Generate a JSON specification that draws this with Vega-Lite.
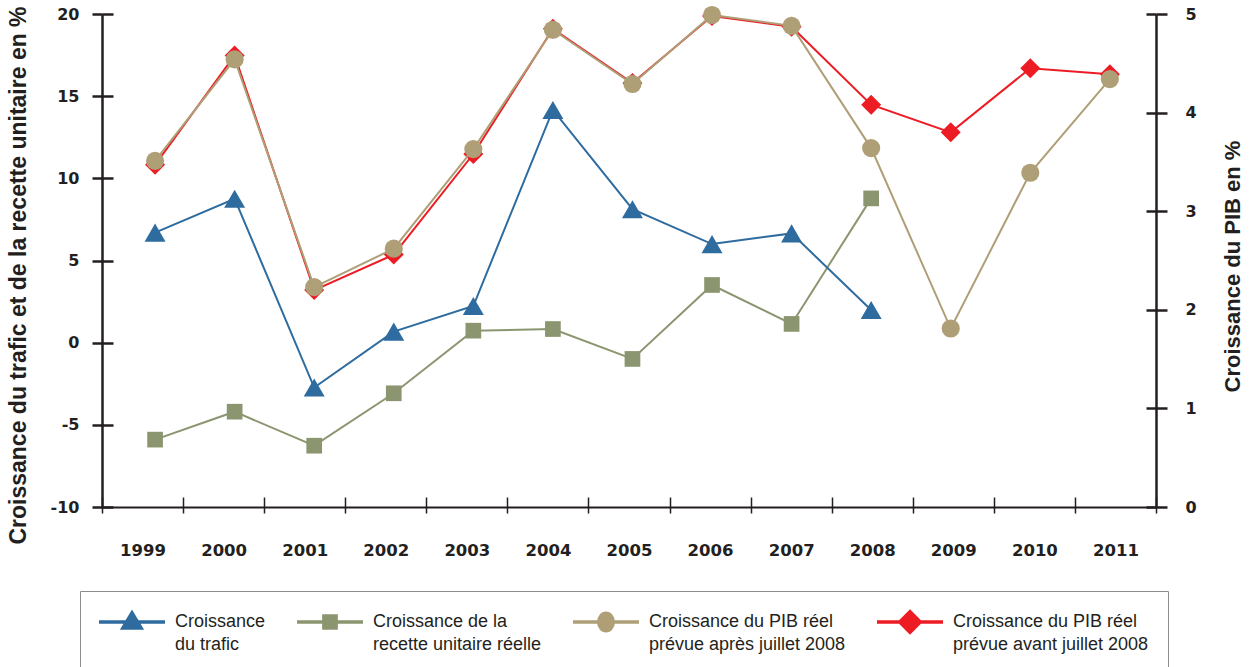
{
  "$schema": "https://vega.github.io/schema/vega-lite/v6.json",
  "width": 1054,
  "height": 493,
  "autosize": "none",
  "padding": {"left": 102, "top": 14, "right": 94, "bottom": 160},
  "background": "white",
  "config": {"view": {"stroke": null}, "font": "Liberation Sans"},
  "data": {"values": [
    {"year": 1999, "trafic": 6.7, "recette": -5.9, "pib_apres": 3.51, "pib_avant": 3.47},
    {"year": 2000, "trafic": 8.76, "recette": -4.2, "pib_apres": 4.54, "pib_avant": 4.58},
    {"year": 2001, "trafic": -2.73, "recette": -6.27, "pib_apres": 2.23, "pib_avant": 2.2},
    {"year": 2002, "trafic": 0.67, "recette": -3.08, "pib_apres": 2.62, "pib_avant": 2.56},
    {"year": 2003, "trafic": 2.23, "recette": 0.73, "pib_apres": 3.63, "pib_avant": 3.58},
    {"year": 2004, "trafic": 14.16, "recette": 0.83, "pib_apres": 4.84, "pib_avant": 4.85},
    {"year": 2005, "trafic": 8.12, "recette": -0.99, "pib_apres": 4.29, "pib_avant": 4.3},
    {"year": 2006, "trafic": 6.0, "recette": 3.51, "pib_apres": 4.99, "pib_avant": 4.98},
    {"year": 2007, "trafic": 6.65, "recette": 1.14, "pib_apres": 4.88, "pib_avant": 4.87},
    {"year": 2008, "trafic": 1.99, "recette": 8.78, "pib_apres": 3.64, "pib_avant": 4.08},
    {"year": 2009, "trafic": null, "recette": null, "pib_apres": 1.81, "pib_avant": 3.8},
    {"year": 2010, "trafic": null, "recette": null, "pib_apres": 3.39, "pib_avant": 4.45},
    {"year": 2011, "trafic": null, "recette": null, "pib_apres": 4.34, "pib_avant": 4.39}
  ]},
  "layer": [
    {
      "transform": [{"fold": ["trafic", "recette", "pib_apres", "pib_avant"], "as": ["series", "v"]}],
      "mark": {"type": "point", "opacity": 0, "filled": true},
      "encoding": {
        "x": {
          "field": "year", "type": "ordinal",
          "scale": {"type": "band", "paddingInner": 0, "paddingOuter": 0},
          "axis": {
            "orient": "bottom", "title": null, "tickBand": "extent",
            "domainColor": "#231f20", "domainWidth": 2,
            "tickColor": "#231f20", "tickWidth": 1.5, "tickSize": 6,
            "grid": true, "gridColor": "#231f20", "gridWidth": 1.5, "gridDash": [10, 3000],
            "labelAngle": 0, "labelFont": "DejaVu Sans", "labelFontWeight": "bold", "labelFontSize": 16.5,
            "labelColor": "#231f20", "labelPadding": 29, "labelBaseline": "top"
          }
        },
        "color": {
          "field": "series", "type": "nominal",
          "scale": {"domain": ["trafic", "recette", "pib_apres", "pib_avant"], "range": ["#2e6b9e", "#8b9670", "#ae9f77", "#ed1c24"]},
          "legend": {
            "orient": "none", "legendX": -22, "legendY": 577, "direction": "horizontal", "columns": 4, "title": null,
            "strokeColor": "#8c8c8c", "fillColor": "white", "padding": 19,
            "symbolSize": 400, "symbolStrokeWidth": 3.5, "symbolOpacity": 1,
            "labelFont": "Liberation Sans", "labelFontSize": 18, "labelColor": "#231f20", "labelLimit": 400,
            "labelOffset": 52, "columnPadding": 24,
            "labelExpr": "datum.label == 'trafic' ? ['Croissance', 'du trafic'] : datum.label == 'recette' ? ['Croissance de la', 'recette unitaire réelle'] : datum.label == 'pib_apres' ? ['Croissance du PIB réel', 'prévue après juillet 2008'] : ['Croissance du PIB réel', 'prévue avant juillet 2008']",
            "encode": {
              "labels": {"update": {"lineHeight": {"value": 23}}},
              "symbols": {"update": {"stroke": {"scale": "color", "field": "value"}}}
            }
          }
        },
        "shape": {
          "field": "series", "type": "nominal",
          "scale": {"domain": ["trafic", "recette", "pib_apres", "pib_avant"], "range": [
            "M-1.2,0H5.4M2.1,-0.9L3.005,0.6L1.195,0.6Z",
            "M-1.2,0H5.4M1.49,-0.61H2.71V0.61H1.49Z",
            "M-1.2,0H5.4M2.82,0A0.72,0.87 0 1,1 1.38,0A0.72,0.87 0 1,1 2.82,0Z",
            "M-1.2,0H5.4M2.1,-1.02L3.12,0L2.1,1.02L1.08,0Z"
          ]},
          "legend": {
            "orient": "none", "legendX": -22, "legendY": 577, "direction": "horizontal", "columns": 4, "title": null,
            "strokeColor": "#8c8c8c", "fillColor": "white", "padding": 19,
            "symbolSize": 400, "symbolStrokeWidth": 3.5, "symbolOpacity": 1,
            "labelFont": "Liberation Sans", "labelFontSize": 18, "labelColor": "#231f20", "labelLimit": 400,
            "labelOffset": 52, "columnPadding": 24,
            "labelExpr": "datum.label == 'trafic' ? ['Croissance', 'du trafic'] : datum.label == 'recette' ? ['Croissance de la', 'recette unitaire réelle'] : datum.label == 'pib_apres' ? ['Croissance du PIB réel', 'prévue après juillet 2008'] : ['Croissance du PIB réel', 'prévue avant juillet 2008']",
            "encode": {
              "labels": {"update": {"lineHeight": {"value": 23}}},
              "symbols": {"update": {"stroke": {"scale": "color", "field": "value"}}}
            }
          }
        }
      }
    },
    {
      "transform": [{"fold": ["pib_avant", "pib_apres"], "as": ["series", "v"]}],
      "encoding": {
        "x": {"field": "year", "type": "quantitative", "scale": {"domain": [1998.333, 2011.58], "nice": false, "zero": false}, "axis": null},
        "y": {
          "field": "v", "type": "quantitative",
          "scale": {"domain": [0, 5], "nice": false},
          "axis": {
            "orient": "right", "values": [0, 1, 2, 3, 4, 5], "labelFlush": false,
            "domainColor": "#231f20", "domainWidth": 2.5,
            "tickColor": "#231f20", "tickWidth": 2.5, "tickSize": 11,
            "grid": true, "gridColor": "#231f20", "gridWidth": 2.5, "gridDash": [10, 3000],
            "labelFont": "DejaVu Sans", "labelFontWeight": "bold", "labelFontSize": 16, "labelColor": "#231f20", "labelPadding": 18,
            "title": "Croissance du PIB en %", "titleFont": "Liberation Sans", "titleFontSize": 22, "titleFontWeight": "bold",
            "titleColor": "#231f20", "titleAngle": 270, "titleAlign": "center", "titleBaseline": "middle",
            "titleX": 76, "titleY": 252
          }
        }
      },
      "layer": [
        {"transform": [{"filter": "datum.series == 'pib_avant'"}], "mark": {"type": "line", "color": "#ed1c24", "strokeWidth": 2}},
        {"transform": [{"filter": "datum.series == 'pib_avant'"}], "mark": {"type": "point", "shape": "diamond", "filled": true, "color": "#ed1c24", "size": 400, "opacity": 1}},
        {"transform": [{"filter": "datum.series == 'pib_apres'"}], "mark": {"type": "line", "color": "#ae9f77", "strokeWidth": 2}},
        {"transform": [{"filter": "datum.series == 'pib_apres'"}], "mark": {"type": "point", "shape": "circle", "filled": true, "color": "#ae9f77", "size": 330, "opacity": 1}}
      ]
    },
    {
      "transform": [{"fold": ["recette", "trafic"], "as": ["series", "v"]}],
      "encoding": {
        "x": {"field": "year", "type": "quantitative", "scale": {"domain": [1998.333, 2011.58], "nice": false, "zero": false}, "axis": null},
        "y": {
          "field": "v", "type": "quantitative",
          "scale": {"domain": [-10, 20], "nice": false, "zero": false},
          "axis": {
            "orient": "left", "values": [-10, -5, 0, 5, 10, 15, 20], "labelFlush": false,
            "labelExpr": "datum.value < 0 ? '-' + abs(datum.value) : '' + datum.value",
            "domainColor": "#231f20", "domainWidth": 2.5,
            "tickColor": "#231f20", "tickWidth": 2.5, "tickSize": 10,
            "grid": true, "gridColor": "#231f20", "gridWidth": 2.5, "gridDash": [11, 3000],
            "labelFont": "DejaVu Sans", "labelFontWeight": "bold", "labelFontSize": 16, "labelColor": "#231f20", "labelPadding": 13,
            "title": "Croissance du trafic et de la recette unitaire en %", "titleFont": "Liberation Sans", "titleFontSize": 23, "titleFontWeight": "bold",
            "titleColor": "#231f20", "titleAngle": 270, "titleAlign": "center", "titleBaseline": "middle",
            "titleX": -84, "titleY": 261
          }
        }
      },
      "layer": [
        {"transform": [{"filter": "datum.series == 'recette'"}], "mark": {"type": "line", "color": "#8b9670", "strokeWidth": 2}},
        {"transform": [{"filter": "datum.series == 'recette'"}], "mark": {"type": "point", "shape": "square", "filled": true, "color": "#8b9670", "size": 246, "opacity": 1}},
        {"transform": [{"filter": "datum.series == 'trafic'"}], "mark": {"type": "line", "color": "#2e6b9e", "strokeWidth": 2}},
        {"transform": [{"filter": "datum.series == 'trafic'"}], "mark": {"type": "point", "shape": "triangle-up", "filled": true, "color": "#2e6b9e", "size": 440, "opacity": 1}}
      ]
    }
  ],
  "resolve": {"scale": {"x": "independent", "y": "independent"}}
}
